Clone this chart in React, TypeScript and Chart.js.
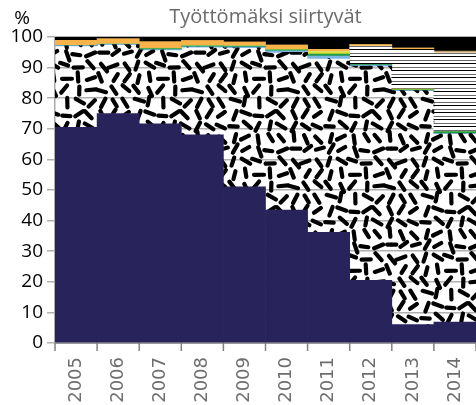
import React, { useEffect, useRef } from 'react';
import { Chart, registerables } from 'chart.js';

Chart.register(...registerables);

const chartTitle = 'Työttömäksi siirtyvät';
const unitLabel = '%';
const categories = ['2005', '2006', '2007', '2008', '2009', '2010', '2011', '2012', '2013', '2014'];

const navyShare = [70.5, 75.0, 71.6, 68.0, 51.0, 43.4, 36.2, 20.5, 6.0, 6.8];
const dashShare = [26.6, 22.5, 24.2, 28.7, 45.5, 51.6, 56.8, 70.0, 76.5, 61.7];
const lightBlueShare = [0.1, 0.1, 0.1, 0.1, 0.2, 0.5, 0.8, 0.3, 0, 0];
const greenShare = [0.1, 0.1, 0.3, 0.3, 0.3, 0.3, 0.6, 0.3, 0.2, 0.6];
const yellowShare = [0, 0, 0, 0, 0, 0.2, 0.8, 0, 0.3, 0];
const stripeShare = [0, 0, 0, 0, 0, 0, 0, 5.9, 13.0, 25.7];
const orangeShare = [1.6, 1.7, 2.2, 1.7, 1.3, 1.4, 0.8, 0.5, 0.4, 0];
const tanShare = [0, 0, 0, 0, 0, 0, 0, 0, 0, 0.6];
const blackShare = [1.1, 0.6, 1.6, 1.2, 1.7, 2.6, 4.0, 2.5, 3.6, 4.6];

const yTicks = [0, 10, 20, 30, 40, 50, 60, 70, 80, 90, 100];

function seeded(seed: number) {
  let s = seed >>> 0;
  return () => {
    s = (s + 0x6d2b79f5) >>> 0;
    let t = s;
    t = Math.imul(t ^ (t >>> 15), t | 1);
    t ^= t + Math.imul(t ^ (t >>> 7), t | 61);
    return ((t ^ (t >>> 14)) >>> 0) / 4294967296;
  };
}

function makeDashPattern(ctx: CanvasRenderingContext2D) {
  const T = 96;
  const cell = 12;
  const c = document.createElement('canvas');
  c.width = T;
  c.height = T;
  const g = c.getContext('2d')!;
  const rnd = seeded(2024);
  g.strokeStyle = '#000';
  g.lineWidth = 4.2;
  g.lineCap = 'round';
  const n = T / cell;
  for (let i = 0; i < n; i++) {
    for (let j = 0; j < n; j++) {
      const cx = i * cell + cell / 2 + (rnd() - 0.5) * 4;
      const cy = j * cell + cell / 2 + (rnd() - 0.5) * 4;
      const a = rnd() * Math.PI;
      const len = 8 + rnd() * 2;
      const dx = (Math.cos(a) * len) / 2;
      const dy = (Math.sin(a) * len) / 2;
      for (const ox of [-T, 0, T]) {
        for (const oy of [-T, 0, T]) {
          g.beginPath();
          g.moveTo(cx - dx + ox, cy - dy + oy);
          g.lineTo(cx + dx + ox, cy + dy + oy);
          g.stroke();
        }
      }
    }
  }
  return ctx.createPattern(c, 'repeat')!;
}

function makeStripePattern(ctx: CanvasRenderingContext2D) {
  const c = document.createElement('canvas');
  c.width = 8;
  c.height = 7;
  const g = c.getContext('2d')!;
  g.fillStyle = '#ffffff';
  g.fillRect(0, 0, 8, 7);
  g.fillStyle = '#000000';
  g.fillRect(0, 0, 8, 1);
  g.fillStyle = '#6a6a6a';
  g.fillRect(0, 4, 8, 1);
  return ctx.createPattern(c, 'repeat')!;
}

const decorPlugin = {
  id: 'decor',
  afterDraw(chart: any) {
    const c = chart.ctx as CanvasRenderingContext2D;
    const area = chart.chartArea;
    const xs = chart.scales.x;
    c.save();
    c.strokeStyle = '#808080';
    c.lineWidth = 1.5;
    const n = categories.length;
    for (let i = 0; i <= n; i++) {
      let px: number;
      if (i === 0) px = area.left;
      else if (i === n) px = area.right;
      else px = (xs.getPixelForTick(i - 1) + xs.getPixelForTick(i)) / 2;
      c.beginPath();
      c.moveTo(px, area.bottom);
      c.lineTo(px, area.bottom + 8);
      c.stroke();
    }
    c.font = '20px "Open Sans"';
    c.fillStyle = '#6b6b6b';
    c.textAlign = 'center';
    c.textBaseline = 'middle';
    c.fillText(chartTitle, (area.left + area.right) / 2, 17);
    c.font = '19px "Open Sans"';
    c.fillStyle = '#000000';
    c.fillText(unitLabel, 22, 19);
    c.restore();
  },
};

export default function App() {
  const ref = useRef<HTMLCanvasElement | null>(null);

  useEffect(() => {
    const canvas = ref.current!;
    const ctx = canvas.getContext('2d')!;
    const dash = makeDashPattern(ctx);
    const stripes = makeStripePattern(ctx);

    const mk = (label: string, data: number[], color: any) => ({
      label,
      data,
      backgroundColor: color,
      borderWidth: 0,
      barPercentage: 1,
      categoryPercentage: 1,
    });

    const chart = new Chart(ctx, {
      type: 'bar',
      data: {
        labels: categories,
        datasets: [
          mk('navy', navyShare, '#29235c'),
          mk('dash', dashShare, dash),
          mk('lightblue', lightBlueShare, '#7db6e3'),
          mk('green', greenShare, '#1f9a45'),
          mk('yellow', yellowShare, '#d6dc3c'),
          mk('stripes', stripeShare, stripes),
          mk('orange', orangeShare, '#f8b348'),
          mk('tan', tanShare, '#b89b6b'),
          mk('black', blackShare, '#000000'),
        ],
      },
      options: {
        responsive: false,
        animation: false,
        layout: { padding: { top: 37, right: 0, left: 0, bottom: 0 } },
        plugins: {
          legend: { display: false },
          tooltip: { enabled: false },
          title: { display: false },
        },
        scales: {
          x: {
            stacked: true,
            offset: true,
            grid: { display: false },
            border: { display: true, color: '#999999' },
            ticks: {
              color: '#6e6e6e',
              font: { family: 'DejaVu Sans', size: 18 },
              maxRotation: 90,
              minRotation: 90,
              padding: 6,
              autoSkip: false,
            },
            afterFit(scale: any) {
              scale.height = 62;
              scale.paddingLeft = 0;
              scale.paddingRight = 0;
            },
          },
          y: {
            stacked: true,
            min: 0,
            max: 100,
            afterBuildTicks(scale: any) {
              scale.ticks = yTicks.map((v) => ({ value: v }));
            },
            grid: {
              color: '#b0b0b0',
              lineWidth: 1.5,
              tickLength: 8,
            },
            border: { display: true, color: '#aaaaaa', width: 1.5 },
            ticks: {
              color: '#000000',
              font: { family: 'Open Sans', size: 19 },
              padding: 4,
            },
            afterFit(scale: any) {
              scale.width = 55;
            },
          },
        },
      },
      plugins: [decorPlugin],
    });
    return () => chart.destroy();
  }, []);

  return (
    <div style={{ position: 'absolute', left: 0, top: 0, width: 476, height: 405, overflow: 'hidden', background: '#fff' }}>
      <canvas ref={ref} width={476} height={405} style={{ display: 'block' }} />
    </div>
  );
}
